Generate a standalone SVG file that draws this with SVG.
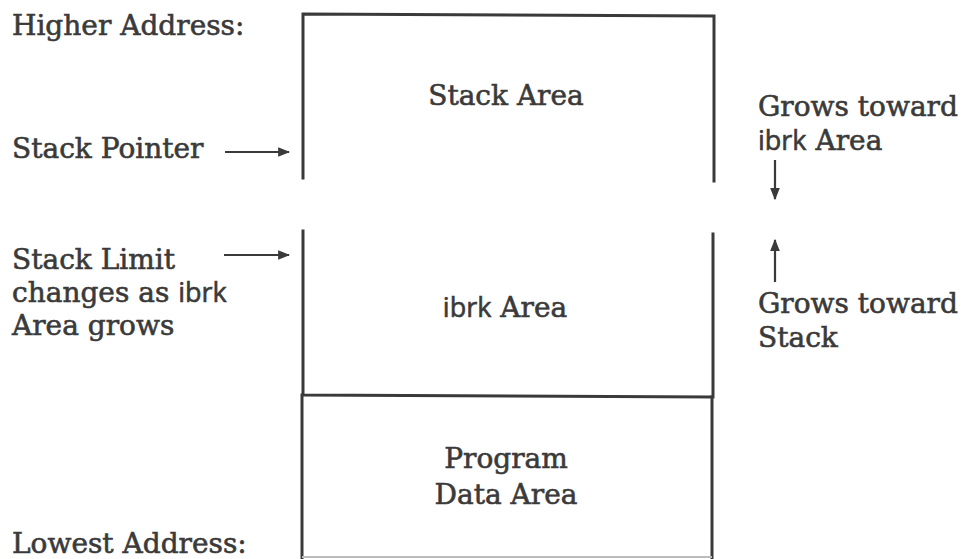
<svg xmlns="http://www.w3.org/2000/svg" width="977" height="559" viewBox="0 0 977 559">
<style>
.t{font-family:"DejaVu Serif","Liberation Serif",serif;font-size:28px;fill:#3a3a3a;stroke:#3a3a3a;stroke-width:0.6}
.s{font-family:"Open Sans","DejaVu Sans",sans-serif;font-size:27px}
.box{stroke:#3a3a3a;stroke-width:3;fill:none;stroke-linecap:square}
.arr{stroke:#3a3a3a;stroke-width:2.2;fill:none;marker-end:url(#ah)}
</style>
<defs>
<marker id="ah" viewBox="0 0 10 10" refX="9" refY="5" markerWidth="5.5" markerHeight="5.5" orient="auto" markerUnits="strokeWidth">
<path d="M0,1 L10,5 L0,9 Z" fill="#3a3a3a"/>
</marker>
</defs>
<rect width="977" height="559" fill="#ffffff"/>
<g id="stack-area">
<path class="box" d="M303,178 L303,14 L714,16 L714,181"/>
<text class="t" x="506" y="105" text-anchor="middle">Stack Area</text>
</g>
<g id="ibrk-area">
<path class="box" d="M303,231 L303,395 L713,397 L713,234"/>
<text class="t" x="505" y="317" text-anchor="middle"><tspan class="s">ibrk</tspan> Area</text>
</g>
<g id="program-data-area">
<path class="box" d="M302,395 L302,559 M712,397 L712,559"/>
<line x1="302" y1="557" x2="712" y2="557" stroke="#bbbbbb" stroke-width="2"/>
<text class="t" x="506" y="468" text-anchor="middle">Program</text>
<text class="t" x="506" y="504" text-anchor="middle">Data Area</text>
</g>
<g id="higher-address"><text class="t" x="12" y="35">Higher Address:</text></g>
<g id="stack-pointer"><text class="t" x="12" y="158">Stack Pointer</text></g>
<g id="stack-limit">
<text class="t" x="12" y="269">Stack Limit</text>
<text class="t" x="12" y="302">changes as <tspan class="s">ibrk</tspan></text>
<text class="t" x="12" y="335">Area grows</text>
</g>
<g id="lowest-address"><text class="t" x="12" y="553">Lowest Address:</text></g>
<g id="grows-toward-ibrk">
<text class="t" x="758" y="116">Grows toward</text>
<text class="t" x="758" y="150"><tspan class="s">ibrk</tspan> Area</text>
</g>
<g id="grows-toward-stack">
<text class="t" x="758" y="313">Grows toward</text>
<text class="t" x="758" y="347">Stack</text>
</g>
<g id="connectors">
<line class="arr" x1="225" y1="152" x2="289" y2="152"/>
<line class="arr" x1="224" y1="255" x2="289" y2="255"/>
<line class="arr" x1="775" y1="160" x2="775" y2="199"/>
<line class="arr" x1="775" y1="282" x2="775" y2="240"/>
</g>
</svg>
